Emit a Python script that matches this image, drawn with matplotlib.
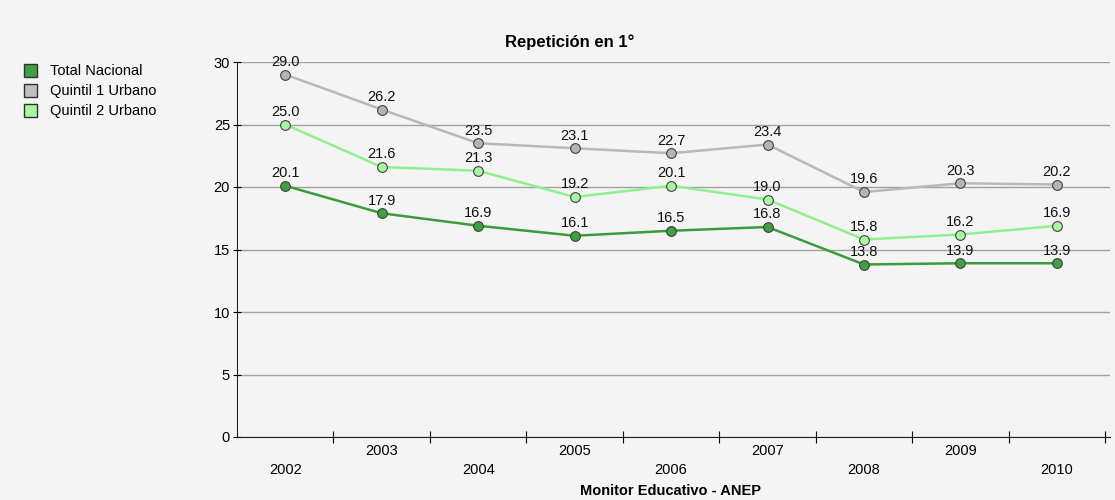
import matplotlib.pyplot as plt

years = [2002, 2003, 2004, 2005, 2006, 2007, 2008, 2009, 2010]
total_nacional = [20.1, 17.9, 16.9, 16.1, 16.5, 16.8, 13.8, 13.9, 13.9]
quintil1_urbano = [29.0, 26.2, 23.5, 23.1, 22.7, 23.4, 19.6, 20.3, 20.2]
quintil2_urbano = [25.0, 21.6, 21.3, 19.2, 20.1, 19.0, 15.8, 16.2, 16.9]
y_ticks = [0, 5, 10, 15, 20, 25, 30]

plt.rcParams['font.family'] = ['Liberation Sans', 'DejaVu Sans']

bg = '#f4f4f4'
fig = plt.figure(figsize=(11.15, 5.0), dpi=100, facecolor=bg)
ax = fig.add_axes([237 / 1115, 1 - 437 / 500, (1110 - 237) / 1115, 375 / 500])
ax.set_facecolor(bg)

series = [
    ("Quintil 1 Urbano", quintil1_urbano, '#b8b8b8', '#b4b4b4'),
    ("Quintil 2 Urbano", quintil2_urbano, '#90f090', '#a8f8a0'),
    ("Total Nacional", total_nacional, '#3c9c3c', '#3fa03f'),
]

for name, vals, lc, mc in series:
    ax.plot(years, vals, color=lc, lw=1.8, marker='o', ms=7, mfc=mc,
            mec='#404040', mew=0.8, zorder=3)
    for x, v in zip(years, vals):
        ax.annotate(f"{v:.1f}", (x, v), xytext=(0, 4), textcoords='offset points',
                    ha='center', va='bottom', fontsize=10.5, color='#111111', zorder=4)

ax.set_ylim(0, 30)
ax.set_xlim(2001.5, 2010.55)
ax.set_yticks(y_ticks)
ax.set_yticklabels([str(t) for t in y_ticks], fontsize=10.5)
ax.yaxis.grid(True, color='#a0a0a0', lw=1)
ax.set_axisbelow(True)

# ticks at category boundaries, labels staggered
ax.set_xticks([y + 0.5 for y in years])
ax.set_xticklabels([])
ax.tick_params(axis='x', direction='inout', length=8, width=0.8)
ax.tick_params(axis='y', direction='inout', length=6, width=0.8, pad=2)
for i, yr in enumerate(years):
    dy = -10 if i % 2 == 1 else -24
    ax.annotate(str(yr), (yr, 0), xytext=(0, dy), textcoords='offset points',
                ha='center', va='center', fontsize=10.5, annotation_clip=False)

for s in ['top', 'right']:
    ax.spines[s].set_visible(False)
ax.spines['left'].set_color('#202020')
ax.spines['bottom'].set_color('#202020')

fig.text(570 / 1115, 1 - 42 / 500, "Repetición en 1°", ha='center', va='center',
         fontsize=12, fontweight='bold')

fig.text(671 / 1115, 2 / 500, "Monitor Educativo - ANEP", ha='center', va='bottom',
         fontsize=10.5, fontweight='bold')

# legend on the left
leg_items = [("Total Nacional", '#3fa03f'), ("Quintil 1 Urbano", '#c0c0c0'),
             ("Quintil 2 Urbano", '#a8f8a0')]
for i, (name, c) in enumerate(leg_items):
    ypx = 71 + i * 20
    fig.patches.append(plt.Rectangle((24 / 1115, 1 - (ypx + 6) / 500), 13 / 1115, 13 / 500,
                                     transform=fig.transFigure, facecolor=c,
                                     edgecolor='#303030', lw=1))
    fig.text(50 / 1115, 1 - ypx / 500, name, ha='left', va='center', fontsize=10.5)

fig.savefig("out.png", dpi=100, facecolor=bg)
